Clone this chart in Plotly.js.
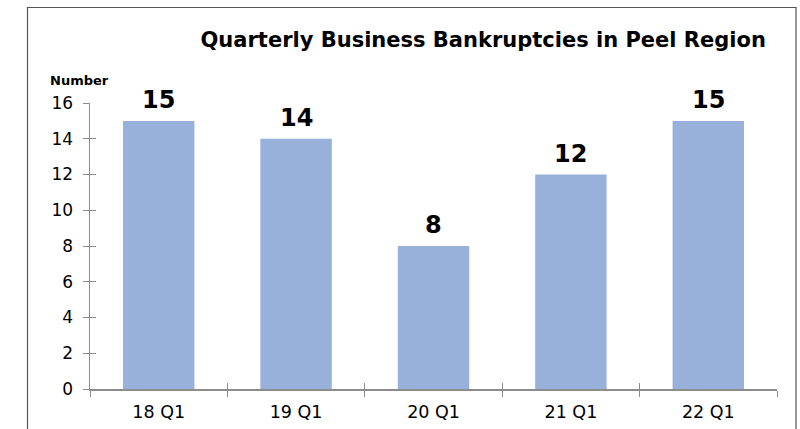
<!DOCTYPE html>
<html>
<head>
<meta charset="utf-8">
<script src="https://cdn.plot.ly/plotly-3.0.1.min.js"></script>
<style>html,body{margin:0;padding:0;background:#fff}#chart{width:800px;height:429px}</style>
</head>
<body>
<div id="chart"></div>
<script>
const categories = ["18 Q1", "19 Q1", "20 Q1", "21 Q1", "22 Q1"];
const bankruptcies = [15, 14, 8, 12, 15];
const yTicks = [0, 2, 4, 6, 8, 10, 12, 14, 16];

const axisColor = '#8c8c8c';
const fontFam = 'DejaVu Sans, Arial, sans-serif';

const data = [{
  type: 'bar',
  x: categories,
  y: bankruptcies,
  marker: {color: '#97B1DB'},
  hoverinfo: 'none'
}, {
  type: 'bar', x: categories, y: bankruptcies.map(() => null),
  xaxis: 'x2', yaxis: 'y2', showlegend: false, hoverinfo: 'none'
}];

const valueLabels = categories.map((c, i) => ({
  x: c, y: bankruptcies[i], xref: 'x', yref: 'y',
  text: '<b>' + bankruptcies[i] + '</b>',
  showarrow: false, xanchor: 'center', yanchor: 'bottom', yshift: 5,
  font: {family: fontFam, size: 24, color: '#000'}
}));

const layout = {
  width: 800, height: 429,
  margin: {l: 90, r: 23, t: 103, b: 40},
  paper_bgcolor: '#fff', plot_bgcolor: '#fff',
  showlegend: false,
  bargap: 0.48,
  font: {family: fontFam, color: '#000'},
  title: {
    text: '<b>Quarterly Business Bankruptcies in Peel Region</b>',
    font: {family: fontFam, size: 21, color: '#000'},
    x: 0.604, xanchor: 'center', y: 0.907, yanchor: 'middle'
  },
  xaxis: {
    type: 'category',
    showline: true, linecolor: axisColor, linewidth: 1.5,
    ticks: 'outside', ticklen: 6, tickcolor: axisColor, tickwidth: 1,
    tickson: 'boundaries',
    showgrid: false, zeroline: false,
    tickfont: {family: fontFam, size: 17.5, color: '#000'},
    ticklabelstandoff: 6,
    fixedrange: true
  },
  yaxis: {
    range: [0, 16],
    tickvals: yTicks,
    showline: true, linecolor: axisColor, linewidth: 1.5,
    ticks: 'outside', ticklen: 6, tickcolor: axisColor, tickwidth: 1,
    showgrid: false, zeroline: false,
    tickfont: {family: fontFam, size: 17, color: '#000'},
    ticklabelstandoff: 6,
    fixedrange: true
  },
  xaxis2: {
    type: 'category', overlaying: 'x', matches: 'x',
    ticks: 'inside', ticklen: 6, tickcolor: axisColor, tickwidth: 1,
    tickson: 'boundaries', showticklabels: false,
    showgrid: false, zeroline: false, showline: false, anchor: 'y2'
  },
  yaxis2: {
    range: [0, 16], overlaying: 'y', tickvals: yTicks,
    ticks: 'inside', ticklen: 6, tickcolor: axisColor, tickwidth: 1,
    showticklabels: false, showgrid: false, zeroline: false, showline: false,
    anchor: 'x2'
  },
  annotations: [{
    text: '<b>Number</b>', xref: 'paper', yref: 'paper',
    x: (79 - 90) / 687, y: (389 - 80) / 286, xanchor: 'center', yanchor: 'middle',
    showarrow: false, font: {family: fontFam, size: 13, color: '#000'}
  }].concat(valueLabels),
  shapes: [{
    type: 'rect', xref: 'paper', yref: 'paper',
    x0: (27.5 - 90) / 687, x1: (796 - 90) / 687,
    y0: (389 - 445) / 286, y1: (389 - 7.5) / 286,
    line: {color: '#555', width: 1.2}, fillcolor: 'rgba(0,0,0,0)', layer: 'below'
  }]
};

Plotly.newPlot('chart', data, layout, {displayModeBar: false, staticPlot: true});
</script>
</body>
</html>
